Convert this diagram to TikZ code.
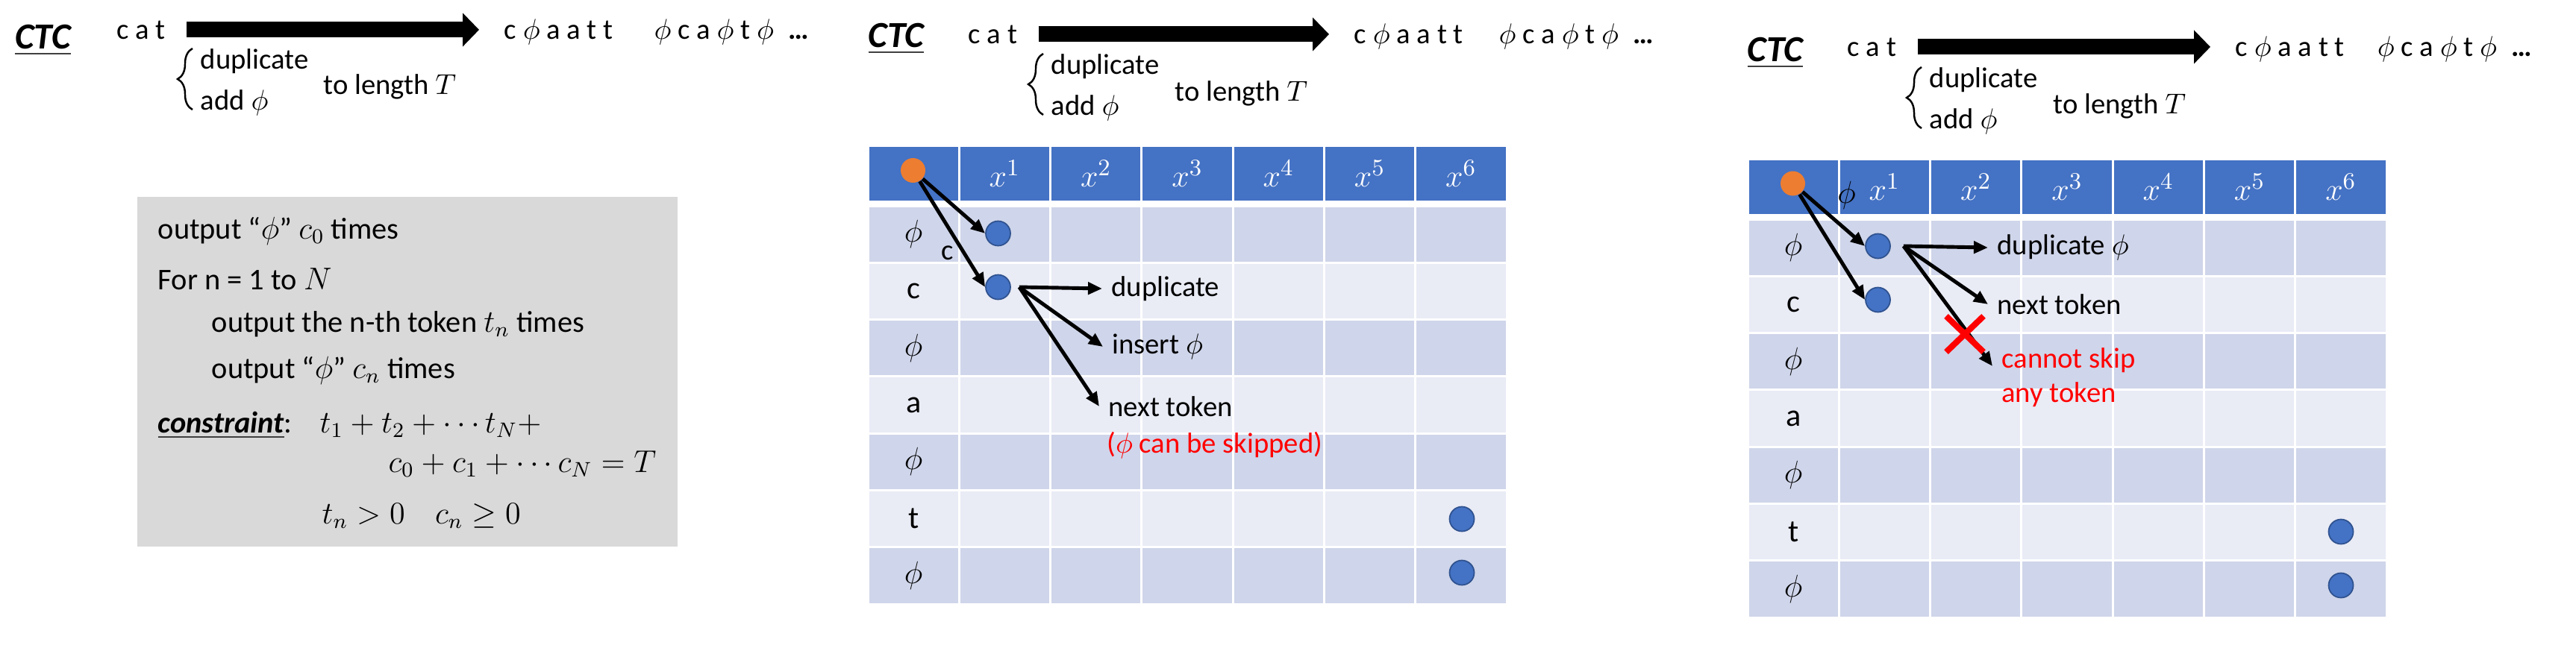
\documentclass[tikz,border=0pt]{standalone}
\usepackage{fontspec}
\setmainfont{Carlito}
\usepackage{amsmath}
\usepackage{amssymb}
\usetikzlibrary{calc}
\usetikzlibrary{positioning, arrows.meta, decorations.pathreplacing, shapes.misc}

\definecolor{hdrblue}{HTML}{4472C4}
\definecolor{rowdark}{HTML}{CFD5EA}
\definecolor{rowlight}{HTML}{E9EBF5}
\definecolor{dotblue}{HTML}{4472C4}
\definecolor{dotedge}{HTML}{2F528F}
\definecolor{dotorange}{HTML}{ED7D31}
\definecolor{boxgray}{HTML}{D9D9D9}
\definecolor{alertred}{HTML}{FF0000}

\begin{document}
\begin{tikzpicture}[-,
    tok/.style={font=\fontsize{11}{13.2}\selectfont, inner sep=1pt, anchor=base west},
    ctc/.style={font=\fontsize{14}{16}\selectfont\bfseries\itshape, anchor=base},
    bigarrow/.style={line width=0.21cm, -{Triangle[length=0.22cm,width=0.44cm]}, shorten <=0.245cm, shorten >=0.295cm},
    brc/.style={decorate, decoration={brace, amplitude=0.2cm}, line width=0.7pt},
    algobox/.style={fill=boxgray, minimum width=7.24cm, minimum height=4.69cm, inner sep=0pt},
    algoline/.style={font=\fontsize{11.5}{14}\selectfont, inner sep=0pt, anchor=base west},
    hdtxt/.style={font=\fontsize{13}{15}\selectfont, text=white},
    cell/.style={font=\fontsize{12}{14}\selectfont},
    note/.style={font=\fontsize{11}{13.2}\selectfont, anchor=west},
    start node/.style={circle, fill=dotorange, inner sep=0pt, minimum size=0.33cm},
    main node/.style={circle, fill=dotblue, draw=dotedge, line width=0.5pt, inner sep=0pt, minimum size=0.33cm},
    arr/.style={line width=1.4pt, -{Triangle[length=0.19cm,width=0.16cm]}}]

  \useasboundingbox (0,0) rectangle (34.52,-8.68);

  % left: header
  \node[ctc] (ctcA) at (0.575,-0.65) {\textcolor{darkgray}{\underline{\textcolor{black}{CTC}}}};
  \node[tok] (catA) at (1.52,-0.52) {c a t};
  \node[tok] (seqA1) at (6.715,-0.52) {c $\phi$ a a t t};
  \node[tok] (seqA2) at (8.725,-0.52) {$\phi$ c a $\phi$ t $\phi$\enspace{\bfseries …}};
  \node[tok] (dupA) at (2.645,-0.92) {duplicate};
  \node[tok] (addA) at (2.645,-1.47) {add $\phi$};
  \node[tok] (lenA) at (4.295,-1.26) {to length $T$};
  \draw[bigarrow] (catA.east) -- (catA.east -| seqA1.west);
  \draw[brc] ([xshift=-0.065cm]addA.base west) -- ([xshift=-0.065cm,yshift=0.27cm]dupA.base west);

  % left: algorithm box
  \node[algobox] (algo) at (5.46,-4.985) {};
  \node[algoline] (l1) at (2.11,-3.20) {output “$\phi$” $c_0$ times};
  \node[algoline] (l2) at (2.11,-3.88) {For n = 1 to $N$};
  \node[algoline] (l3) at (2.83,-4.45) {output the n-th token $t_n$ times};
  \node[algoline] (l4) at (2.83,-5.07) {output “$\phi$” $c_n$ times};
  \node[algoline] (l5) at (2.11,-5.80) {\textcolor{darkgray}{\underline{\textcolor{black}{\textbf{\textit{constraint}}}}}:};
  \node[algoline] (l5b) at (4.28,-5.80) {$t_1+t_2+\cdots t_N+$};
  \node[algoline, anchor=base east] (l6) at (8.80,-6.33) {$c_0+c_1+\cdots c_N=T$};
  \node[algoline] (l7) at (4.31,-7.02) {$t_n>0\quad c_n\geq 0$};

  % middle: header
  \node[ctc] (ctcB) at (12.01,-0.63) {\textcolor{darkgray}{\underline{\textcolor{black}{CTC}}}};
  \node[tok] (catB) at (12.935,-0.58) {c a t};
  \node[tok] (seqB1) at (18.105,-0.58) {c $\phi$ a a t t};
  \node[tok] (seqB2) at (20.045,-0.58) {$\phi$ c a $\phi$ t $\phi$\enspace{\bfseries …}};
  \node[tok] (dupB0) at (14.045,-0.99) {duplicate};
  \node[tok] (addB) at (14.045,-1.54) {add $\phi$};
  \node[tok] (lenB) at (15.705,-1.35) {to length $T$};
  \draw[bigarrow] (catB.east) -- (catB.east -| seqB1.west);
  \draw[brc] ([xshift=-0.065cm]addB.base west) -- ([xshift=-0.065cm,yshift=0.27cm]dupB0.base west);

  % right: header
  \node[ctc] (ctcC) at (23.79,-0.82) {\textcolor{darkgray}{\underline{\textcolor{black}{CTC}}}};
  \node[tok] (catC) at (24.715,-0.75) {c a t};
  \node[tok] (seqC1) at (29.915,-0.75) {c $\phi$ a a t t};
  \node[tok] (seqC2) at (31.815,-0.75) {$\phi$ c a $\phi$ t $\phi$\enspace{\bfseries …}};
  \node[tok] (dupC0) at (25.815,-1.17) {duplicate};
  \node[tok] (addC) at (25.815,-1.72) {add $\phi$};
  \node[tok] (lenC) at (27.475,-1.52) {to length $T$};
  \draw[bigarrow] (catC.east) -- (catC.east -| seqC1.west);
  \draw[brc] ([xshift=-0.065cm]addC.base west) -- ([xshift=-0.065cm,yshift=0.27cm]dupC0.base west);

  % the two tables
  \foreach \tx/\ty/\tn in {11.63/-1.97/B, 23.42/-2.15/C}{
    \begin{scope}[shift={(\tx,\ty)}]
      \foreach \cc in {0,...,6}{
        \fill[hdrblue] ({\cc*1.223+0.015},0) rectangle ++(1.193,-0.72);
        \foreach \rr/\rcol in {1/rowdark,2/rowlight,3/rowdark,4/rowlight,5/rowdark,6/rowlight,7/rowdark}
          \fill[fill=\rcol] ({\cc*1.223+0.015},{-0.805-(\rr-1)*0.763}) rectangle ++(1.193,-0.733);
      }
      \foreach \cc in {1,...,6}
        \node[hdtxt] (h\tn\cc) at ({\cc*1.223+0.6115},-0.36) {$x^{\cc}$};
      \foreach \rr/\lab in {1/$\phi$,2/c,3/$\phi$,4/a,5/$\phi$,6/t,7/$\phi$}
        \node[cell] (r\tn\rr) at (0.6115,{-0.79-(\rr-0.5)*0.763}) {\lab};
    \end{scope}
  }

  % middle: paths
  \node[start node] (oB) at (12.235,-2.285) {};
  \node[main node] (b1B) at (13.375,-3.13) {};
  \node[main node] (b2B) at (13.375,-3.85) {};
  \node[main node] (b6B) at (19.59,-6.96) {};
  \node[main node] (b7B) at (19.59,-7.68) {};
  \draw[arr] (oB) -- (b1B.west);
  \draw[arr] (oB) -- node[note, anchor=east, pos=0.68] (cB) {c} (b2B.west);
  \coordinate (sB) at ([xshift=0.11cm]b2B.east);
  \node[note] (dupB) at (14.77,-3.87) {duplicate};
  \node[note] (insB) at (14.78,-4.65) {insert $\phi$};
  \node[note] (nxtB) at (14.73,-5.45) {next token};
  \node[note, text=alertred] (skpB) at (14.71,-5.97) {($\phi$ can be skipped)};
  \draw[arr] (sB) -- (dupB.west);
  \draw[arr] (sB) -- (insB.west);
  \draw[arr] (sB) -- (nxtB.west);

  % right: paths
  \node[start node] (oC) at (24.025,-2.46) {};
  \node[main node] (b1C) at (25.165,-3.30) {};
  \node[main node] (b2C) at (25.165,-4.02) {};
  \node[main node] (b6C) at (31.37,-7.13) {};
  \node[main node] (b7C) at (31.37,-7.85) {};
  \draw[arr] (oC) -- node[cell, pos=0.45, above right=-2pt] (pC) {$\phi$} (b1C.west);
  \draw[arr] (oC) -- (b2C.west);
  \coordinate (sC) at ([xshift=0.17cm]b1C.east);
  \node[note] (dupC) at (26.64,-3.32) {duplicate $\phi$};
  \node[note] (nxtC) at (26.64,-4.08) {next token};
  \node[note, text=alertred, align=left] (cntC) at (26.70,-5.06) {cannot skip\\any token};
  \draw[arr] (sC) -- (dupC.west);
  \draw[arr] (sC) -- (nxtC.west);
  \draw[arr] (sC) -- ([yshift=0.15cm]cntC.west);
  \node[cross out, draw=alertred, line width=2.3pt, minimum width=0.42cm, minimum height=0.4cm, inner sep=0pt] (xC) at (26.33,-4.48) {};

\end{tikzpicture}
\end{document}
